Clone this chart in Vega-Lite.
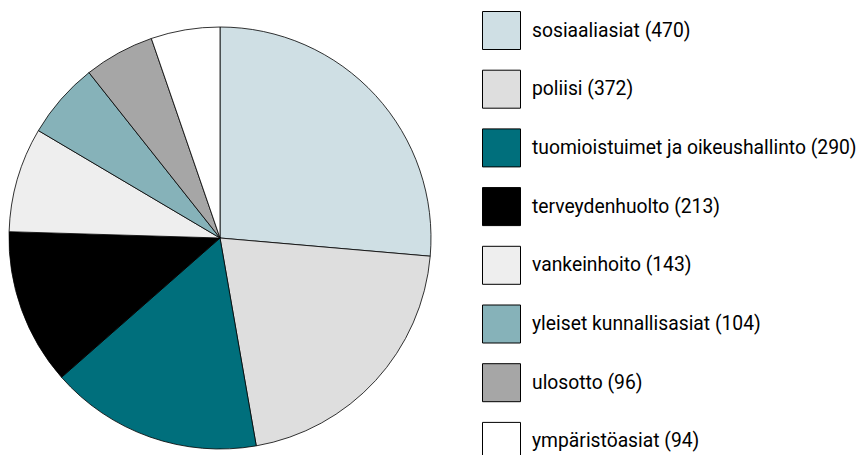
{
  "$schema": "https://vega.github.io/schema/vega-lite/v6.json",
  "width": 440,
  "height": 476,
  "padding": 0,
  "background": "white",
  "data": {
    "values": [
      {"label": "sosiaaliasiat (470)", "n": 470, "order": 1},
      {"label": "poliisi (372)", "n": 372, "order": 2},
      {"label": "tuomioistuimet ja oikeushallinto (290)", "n": 290, "order": 3},
      {"label": "terveydenhuolto (213)", "n": 213, "order": 4},
      {"label": "vankeinhoito (143)", "n": 143, "order": 5},
      {"label": "yleiset kunnallisasiat (104)", "n": 104, "order": 6},
      {"label": "ulosotto (96)", "n": 96, "order": 7},
      {"label": "ympäristöasiat (94)", "n": 94, "order": 8}
    ]
  },
  "mark": {"type": "arc", "outerRadius": 211, "stroke": "black", "strokeWidth": 0.8},
  "encoding": {
    "theta": {"field": "n", "type": "quantitative", "stack": true},
    "order": {"field": "order", "type": "quantitative"},
    "color": {
      "field": "label",
      "type": "nominal",
      "scale": {
        "domain": ["sosiaaliasiat (470)", "poliisi (372)", "tuomioistuimet ja oikeushallinto (290)", "terveydenhuolto (213)", "vankeinhoito (143)", "yleiset kunnallisasiat (104)", "ulosotto (96)", "ympäristöasiat (94)"],
        "range": ["#cfdfe4", "#dedede", "#006f7c", "#000000", "#eeeeee", "#86b2b9", "#a6a6a6", "#ffffff"]
      },
      "legend": {
        "orient": "none",
        "legendX": 482,
        "legendY": 11,
        "title": null,
        "padding": 0,
        "symbolType": "square",
        "symbolSize": 1444,
        "symbolStrokeColor": "black",
        "symbolStrokeWidth": 1,
        "symbolOpacity": 1,
        "labelFont": "Roboto",
        "labelFontSize": 19.3,
        "labelColor": "black",
        "labelLimit": 0,
        "labelOffset": 11,
        "rowPadding": 15.7
      }
    }
  },
  "config": {"view": {"stroke": null}}
}
